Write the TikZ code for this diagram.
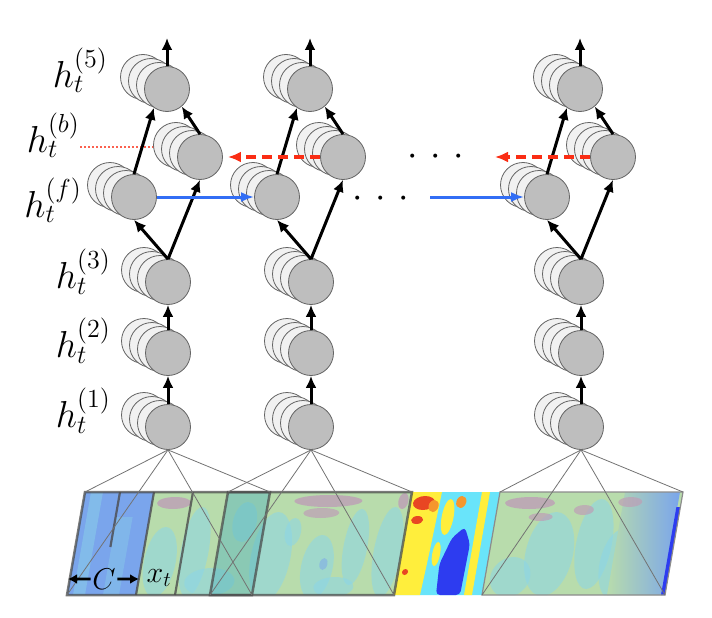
\documentclass[tikz,border=0pt]{standalone}
\usetikzlibrary{arrows.meta}

\definecolor{cellgrey}{RGB}{190,190,190}
\definecolor{backgrey}{RGB}{241,241,241}
\definecolor{rimgrey}{RGB}{100,100,100}
\definecolor{fwdblue}{RGB}{50,110,245}
\definecolor{bwdred}{RGB}{250,45,20}
\definecolor{specgreen}{RGB}{184,220,172}
\definecolor{speccyan}{RGB}{140,214,232}
\definecolor{specpink}{RGB}{190,158,182}
\definecolor{specblue}{RGB}{122,165,236}
\definecolor{jetyellow}{RGB}{255,238,60}
\definecolor{jetred}{RGB}{232,70,35}
\definecolor{jetorange}{RGB}{245,150,45}
\definecolor{jetcyan}{RGB}{105,228,250}
\definecolor{jetblue}{RGB}{45,60,240}

% one unit: three faded copies behind the named front circle
\newcommand{\cellstack}[3]{%
  \node [cellback] at ({#2-24},{#3-12}) {};
  \node [cellback] at ({#2-16},{#3-8}) {};
  \node [cellback] at ({#2-8},{#3-4}) {};
  \node [cellfront] (#1) at (#2,#3) {};
}

\begin{document}
\begin{tikzpicture}[x=1pt, y=-1pt,
  cellfront/.style={circle, draw=rimgrey, fill=cellgrey, minimum size=45pt, inner sep=0pt, line width=0.8pt},
  cellback/.style={cellfront, fill=backgrey},
  upar/.style={-{Latex[length=12pt,width=11pt]}, line width=3pt},
  fwdar/.style={-{Latex[length=13pt,width=10pt]}, line width=3pt, draw=fwdblue},
  bwdar/.style={-{Latex[length=13pt,width=11pt]}, line width=3.5pt, draw=bwdred, dash pattern=on 10pt off 6pt},
  widthar/.style={-{Latex[length=9pt,width=10pt]}, line width=2.6pt},
  bigtext/.style={font=\fontsize{20.74}{24}\selectfont, scale=1.81, transform shape},
  midtext/.style={font=\fontsize{20.74}{24}\selectfont, scale=1.45, transform shape},
  lab/.style={bigtext, anchor=base east, inner sep=0pt},
  fan/.style={draw=black!55, line width=0.8pt},
  winframe/.style={draw=black!70, line width=2.5pt, opacity=.75},
  blob/.style={fill=speccyan, opacity=.55},
  ]
\useasboundingbox (0,0) rectangle (712,618);

% layer names
\node [lab] (lab5) at (108,87)  {$h_t^{(5)}$};
\node [lab] (labb) at (80,152)  {$h_t^{(b)}$};
\node [lab] (labf) at (82,217)  {$h_t^{(f)}$};
\node [lab] (lab3) at (111,288) {$h_t^{(3)}$};
\node [lab] (lab2) at (111,357) {$h_t^{(2)}$};
\node [lab] (lab1) at (111,427) {$h_t^{(1)}$};

\coordinate (bmark) at (176,147);
\draw [bwdred!75, line width=1.1pt, dash pattern=on 1.5pt off 2.5pt] (labb.base east |- bmark) -- (bmark);

% left column
\cellstack{L1}{168}{427}
\cellstack{L2}{168}{353}
\cellstack{L3}{168}{282}
\cellstack{Lf}{134}{197}
\cellstack{Lb}{200}{157}
\cellstack{L5}{167}{89}
% middle column
\cellstack{M1}{311}{427}
\cellstack{M2}{311}{353}
\cellstack{M3}{311}{282}
\cellstack{Mf}{277}{197}
\cellstack{Mb}{343}{157}
\cellstack{M5}{310}{89}
% right column
\cellstack{R1}{581}{427}
\cellstack{R2}{581}{353}
\cellstack{R3}{581}{282}
\cellstack{Rf}{547}{197}
\cellstack{Rb}{613}{157}
\cellstack{R5}{580}{89}

\coordinate (Lo) at (167,38);
\coordinate (Mo) at (310,38);
\coordinate (Ro) at (580,38);

\draw [upar] (L1) -- (L2);
\draw [upar] (L2) -- (L3);
\draw [upar] (L3.north) -- (Lf.south);
\draw [upar] (L3.north) -- (Lb.south);
\draw [upar] (Lf.north) -- (L5.-125);
\draw [upar] (Lb.north) -- (L5.-50);
\draw [upar] (L5.north) -- (Lo);

\draw [upar] (M1) -- (M2);
\draw [upar] (M2) -- (M3);
\draw [upar] (M3.north) -- (Mf.south);
\draw [upar] (M3.north) -- (Mb.south);
\draw [upar] (Mf.north) -- (M5.-125);
\draw [upar] (Mb.north) -- (M5.-50);
\draw [upar] (M5.north) -- (Mo);

\draw [upar] (R1) -- (R2);
\draw [upar] (R2) -- (R3);
\draw [upar] (R3.north) -- (Rf.south);
\draw [upar] (R3.north) -- (Rb.south);
\draw [upar] (Rf.north) -- (R5.-125);
\draw [upar] (Rb.north) -- (R5.-50);
\draw [upar] (R5.north) -- (Ro);

% recurrent links
\coordinate (Rfin) at (430,197);
\coordinate (Rbout) at (495,157);
\draw [fwdar] (Lf) -- (Mf);
\draw [fwdar] (Rfin) -- (Rf);
\draw [bwdar, shorten >=5pt] (Mb) -- (Lb);
\draw [bwdar] (Rb) -- (Rbout);

\node [bigtext] (dotsb) at (436,157) {$\cdot$\hspace{7pt}$\cdot$\hspace{7pt}$\cdot$};
\node [bigtext] (dotsf) at (381,199) {$\cdot$\hspace{7pt}$\cdot$\hspace{7pt}$\cdot$};

% spectrogram strip
\begin{scope}[shift={(0,492)}, xslant=0.1748]
  \coordinate (wLtl) at (85,0);    \coordinate (wLtr) at (270,0);
  \coordinate (wLbl) at (85,103);  \coordinate (wLbr) at (270,103);
  \coordinate (wMtl) at (228,0);   \coordinate (wMtr) at (412,0);
  \coordinate (wMbl) at (228,103); \coordinate (wMbr) at (412,103);
  \coordinate (wRtl) at (500,0);   \coordinate (wRtr) at (683,0);
  \coordinate (wRbl) at (500,103); \coordinate (wRbr) at (683,103);
  \begin{scope}
    \clip (85,0) rectangle (683,103);
    % faded parts
    \fill [specgreen] (85,0) rectangle (412,103);
    \fill [specgreen] (500,0) rectangle (683,103);
    \fill [blob] (205,60) ellipse [x radius=14, y radius=45];
    \fill [blob] (282,65) ellipse [x radius=20, y radius=45];
    \fill [blob] (330,75) ellipse [x radius=16, y radius=32];
    \fill [blob] (365,55) ellipse [x radius=12, y radius=38];
    \fill [blob] (398,60) ellipse [x radius=14, y radius=45];
    \fill [blob] (250,30) ellipse [x radius=12, y radius=20];
    \fill [blob] (172,70) ellipse [x radius=16, y radius=35];
    \fill [blob] (225,90) ellipse [x radius=25, y radius=14];
    \fill [blob] (300,40) ellipse [x radius=8, y radius=14];
    \fill [blob] (350,95) ellipse [x radius=20, y radius=10];
    \fill [specblue, opacity=.5] (336,72) ellipse [x radius=4, y radius=6];
    \fill [specblue] (85,0) rectangle (154,103);
    \fill [speccyan, opacity=.45] (91,0) rectangle (103,103);
    \fill [speccyan, opacity=.35] (121,25) rectangle (137,103);
    \fill [teal!40!speccyan, opacity=.45] (228,0) rectangle (270,103);
    \fill [specpink, opacity=.8] (176,11) ellipse [x radius=17, y radius=6];
    \fill [specpink, opacity=.8] (330,9) ellipse [x radius=34, y radius=6];
    \fill [specpink, opacity=.7] (325,21) ellipse [x radius=18, y radius=5];
    \fill [specpink, opacity=.8] (405,9) ellipse [x radius=5, y radius=8];
    % vivid part
    \fill [jetcyan] (412,0) rectangle (500,103);
    \fill [jetyellow] (412,0) -- (442,0) -- (440,60) -- (438,103) -- (412,103) -- cycle;
    \fill [jetred] (426,11) ellipse [x radius=11, y radius=7];
    \fill [jetred] (422,28) ellipse [x radius=6, y radius=4];
    \fill [jetred] (419,80) ellipse [x radius=3, y radius=3];
    \fill [jetorange] (436,14) ellipse [x radius=5, y radius=6];
    \fill [jetyellow] (452,25) ellipse [x radius=6, y radius=18];
    \fill [jetyellow] (447,62) ellipse [x radius=4, y radius=12];
    \fill [jetorange] (463,10) ellipse [x radius=5, y radius=6];
    \fill [jetblue, rounded corners=4pt] (454,103) -- (452,72) -- (460,46) -- (471,35) -- (479,52) -- (478,103) -- cycle;
    \fill [jetyellow] (482,0) rectangle (490,103);
    % right faded part
    \fill [blob] (560,62) ellipse [x radius=24, y radius=42];
    \fill [blob] (603,52) ellipse [x radius=18, y radius=45];
    \fill [blob] (630,72) ellipse [x radius=18, y radius=35];
    \fill [blob] (525,85) ellipse [x radius=20, y radius=20];
    \shade [left color=specgreen, right color=specblue] (625,0) rectangle (680,103);
    \fill [jetblue] (679,15) rectangle (683,103);
    \fill [specpink, opacity=.8] (532,11) ellipse [x radius=25, y radius=6];
    \fill [specpink, opacity=.7] (545,25) ellipse [x radius=12, y radius=4];
    \fill [specpink, opacity=.7] (587,18) ellipse [x radius=10, y radius=5];
    \fill [specpink, opacity=.7] (632,10) ellipse [x radius=12, y radius=5];
  \end{scope}
  % frame borders inside the left window
  \draw [draw=black!70, line width=2.2pt, opacity=.8] (154,0) -- (154,103);
  \draw [draw=black!70, line width=2.2pt, opacity=.8] (193,0) -- (193,103);
  \draw [draw=black!70, line width=2.2pt, opacity=.8] (120,0) -- (120,55);
\end{scope}

\draw [winframe] (wLtl) -- (wLtr) -- (wLbr) -- (wLbl) -- cycle;
\draw [winframe] (wMtl) -- (wMtr) -- (wMbr) -- (wMbl) -- cycle;
\draw [draw=black!45, line width=1.2pt] (wRtl) -- (wRtr) -- (wRbr) -- (wRbl) -- cycle;

% receptive fields
\draw [fan] (wLtl) -- (L1.south) -- (wLtr);
\draw [fan] (wLbl) -- (L1.south) -- (wLbr);
\draw [fan] (wMtl) -- (M1.south) -- (wMtr);
\draw [fan] (wMbl) -- (M1.south) -- (wMbr);
\draw [fan] (wRtl) -- (R1.south) -- (wRtr);
\draw [fan] (wRbl) -- (R1.south) -- (wRbr);

% context width and frame
\node [midtext, inner sep=1pt] (ctx) at (104,579) {$C$};
\coordinate (ctxl) at (68,579);
\coordinate (ctxr) at (139,579);
\draw [widthar] (ctx) -- (ctxl);
\draw [widthar] (ctx) -- (ctxr);
\node [midtext, inner sep=0pt] (xt) at (159,578) {$x_t$};

\end{tikzpicture}
\end{document}
